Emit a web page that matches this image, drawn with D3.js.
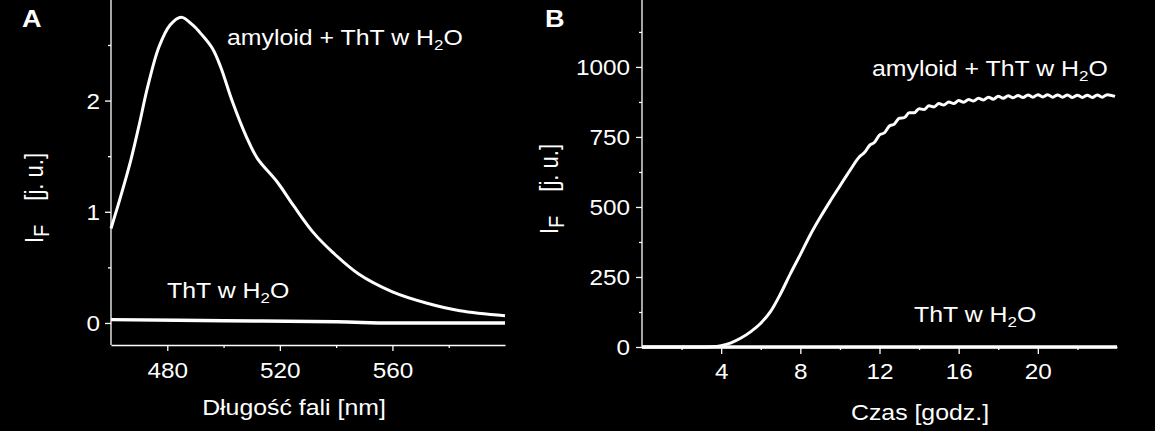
<!DOCTYPE html>
<html>
<head>
<meta charset="utf-8">
<script src="https://cdn.jsdelivr.net/npm/d3@7"></script>
<style>
  body { margin: 0; background: #000; }
  svg { display: block; }
  text { font-family: "Liberation Sans", Arial, sans-serif; fill: #fff; }
</style>
</head>
<body>
<svg width="1155" height="431"></svg>
<script>
// Panel A: emission spectra
const specWave = [460, 463, 467, 470, 473, 477, 481, 485, 489, 492, 496, 499, 503, 508, 512, 519, 525, 532, 539, 548, 560, 572, 584, 600];
const specAmyloid = [0.85, 1.10, 1.46, 1.78, 2.12, 2.48, 2.68, 2.75, 2.68, 2.60, 2.47, 2.30, 2.00, 1.68, 1.48, 1.27, 1.05, 0.81, 0.63, 0.44, 0.28, 0.18, 0.11, 0.065];
const specThTWave = [460, 500, 540, 560, 600];
const specThT = [0.03, 0.02, 0.01, 0.0, 0.0];
const specTicks = [480, 520, 560];
const specMinorTicks = [500, 540, 580];
const specYTicks = [0, 1, 2];
const specYMinor = [0.5, 1.5, 2.5];

// Panel B: aggregation kinetics
const kinTime = [0, 1, 2, 3, 3.5, 4, 4.5, 5, 5.5, 6, 6.5, 7, 7.5, 8, 8.5, 9, 9.5, 10, 10.5,
  11, 11.25, 11.5, 11.75, 12, 12.25, 12.5, 12.75, 13, 13.25, 13.5, 13.75, 14, 14.25, 14.5, 14.75,
  15, 15.25, 15.5, 15.75, 16, 16.25, 16.5, 16.75, 17, 17.25, 17.5, 17.75, 18, 18.25, 18.5, 18.75,
  19, 19.25, 19.5, 19.75, 20, 20.25, 20.5, 20.75, 21, 21.25, 21.5, 21.75, 22, 22.25, 22.5, 22.75,
  23, 23.25, 23.5, 23.9];
const kinAmyloid = [0, 0, 0, 0, 1, 5, 15, 32, 55, 85, 127, 190, 262, 330, 400, 462, 520, 575, 630,
  680, 695, 720, 731, 757, 765, 789, 796, 817, 819, 836, 836, 851, 848, 861, 857,
  869, 864, 875, 869, 880, 874, 884, 878, 888, 882, 892, 885, 895, 888, 897, 890,
  898, 891, 900, 892, 901, 893, 901, 892, 900, 892, 900, 891, 899, 891, 899, 891,
  900, 892, 901, 895];
const kinThTTime = [0, 24];
const kinThT = [0, 0];
const kinTicks = [4, 8, 12, 16, 20];
const kinMinorTicks = [2, 6, 10, 14, 18, 22];
const kinYTicks = [0, 250, 500, 750, 1000];
const kinYMinor = [125, 375, 625, 875, 1125];

const sx = 1.13; // the original figure is stretched a little horizontally
const svg = d3.select('svg');
svg.append('rect').attr('width', 1155).attr('height', 431).attr('fill', '#000');

function stretchedText(x, y, size, anchor) {
  return svg.append('g')
    .attr('transform', `translate(${x},${y}) scale(${sx},1)`)
    .append('text')
    .attr('font-size', size)
    .attr('text-anchor', anchor || 'start');
}

function h2oLabel(x, y, pre) {
  const t = stretchedText(x, y, 22);
  t.append('tspan').text(pre + 'H');
  t.append('tspan').attr('font-size', 15).attr('dy', 5).text('2');
  t.append('tspan').attr('dy', -5).text('O');
}

function yTitle(x, y) {
  const t = svg.append('g')
    .attr('transform', `translate(${x},${y}) scale(${sx},1) rotate(-90)`)
    .append('text').attr('font-size', 22);
  t.append('tspan').text('I');
  t.append('tspan').attr('font-size', 20).attr('dy', 5).text('F');
  t.append('tspan').attr('dy', -5).attr('dx', 24).text('[j. u.]');
}

function styleAxis(g) {
  g.attr('color', '#fff').attr('font-size', null).attr('font-family', null);
  g.select('.domain').attr('stroke-width', 1.3);
  g.selectAll('.tick line').attr('stroke-width', 1.3);
}

function drawAxes(x, y, y0, x0, major, minor, yMajor, yMinor, xLen, xLabelY, yLabelX) {
  const gx = svg.append('g').attr('transform', `translate(0,${y0})`);
  gx.call(d3.axisBottom(x).tickValues(major).tickSize(xLen).tickSizeOuter(0).tickFormat(d3.format('d')));
  styleAxis(gx);
  gx.selectAll('text')
    .attr('y', xLabelY).attr('dy', null)
    .attr('font-size', 21.5)
    .attr('transform', `scale(${sx},1)`);
  const gxm = svg.append('g').attr('transform', `translate(0,${y0})`);
  gxm.call(d3.axisBottom(x).tickValues(minor).tickSize(3).tickFormat(''));
  styleAxis(gxm);
  gxm.select('.domain').remove();

  const gy = svg.append('g').attr('transform', `translate(${x0},0)`);
  gy.call(d3.axisLeft(y).tickValues(yMajor).tickSize(6).tickSizeOuter(0).tickFormat(d3.format('d')));
  styleAxis(gy);
  gy.select('.domain').attr('d', `M0,0V${y0}`);
  gy.selectAll('text')
    .attr('x', yLabelX / sx).attr('dy', '0.36em')
    .attr('font-size', 21.5)
    .attr('transform', `scale(${sx},1)`);
  const gym = svg.append('g').attr('transform', `translate(${x0},0)`);
  gym.call(d3.axisLeft(y).tickValues(yMinor).tickSize(3).tickFormat(''));
  styleAxis(gym);
  gym.select('.domain').remove();
}

// ---- Panel A ----
const xA = d3.scaleLinear().domain([460, 600]).range([111, 505]);
const yA = d3.scaleLinear().domain([-0.2, 2.9]).range([345.2, 0.5]);
drawAxes(xA, yA, 345, 111, specTicks, specMinorTicks, specYTicks, specYMinor, 6, 33, -11);

const lineA = d3.line().x(d => xA(d[0])).y(d => yA(d[1])).curve(d3.curveCatmullRom.alpha(0.5));
svg.append('path')
  .datum(specThTWave.map((w, i) => [w, specThT[i]]))
  .attr('d', lineA).attr('fill', 'none').attr('stroke', '#fff').attr('stroke-width', 3.5);
svg.append('path')
  .datum(specWave.map((w, i) => [w, specAmyloid[i]]))
  .attr('d', lineA).attr('fill', 'none').attr('stroke', '#fff')
  .attr('stroke-width', 3).attr('stroke-linejoin', 'round');

h2oLabel(227, 45, 'amyloid + ThT w ');
h2oLabel(167, 298, 'ThT w ');
stretchedText(22, 27, 24).attr('font-weight', 'bold').text('A');
stretchedText(294, 415, 22, 'middle').text('Długość fali [nm]');
yTitle(43, 243);

// ---- Panel B ----
const xB = d3.scaleLinear().domain([0, 24]).range([642, 1117]);
const yB = d3.scaleLinear().domain([0, 1239]).range([347, 0]);
drawAxes(xB, yB, 347, 642, kinTicks, kinMinorTicks, kinYTicks, kinYMinor, 7, 32, -12);

const lineB = d3.line().x(d => xB(d[0])).y(d => yB(d[1])).curve(d3.curveMonotoneX);
svg.append('path')
  .datum(kinThTTime.map((t, i) => [t, kinThT[i]]))
  .attr('d', lineB).attr('fill', 'none').attr('stroke', '#fff').attr('stroke-width', 3.5);
svg.append('path')
  .datum(kinTime.map((t, i) => [t, kinAmyloid[i]]))
  .attr('d', lineB).attr('fill', 'none').attr('stroke', '#fff')
  .attr('stroke-width', 3).attr('stroke-linejoin', 'round');

h2oLabel(872, 76, 'amyloid + ThT w ');
h2oLabel(914, 322, 'ThT w ');
stretchedText(545, 27, 24).attr('font-weight', 'bold').text('B');
stretchedText(920, 420, 22, 'middle').text('Czas [godz.]');
yTitle(558, 234);
</script>
</body>
</html>
